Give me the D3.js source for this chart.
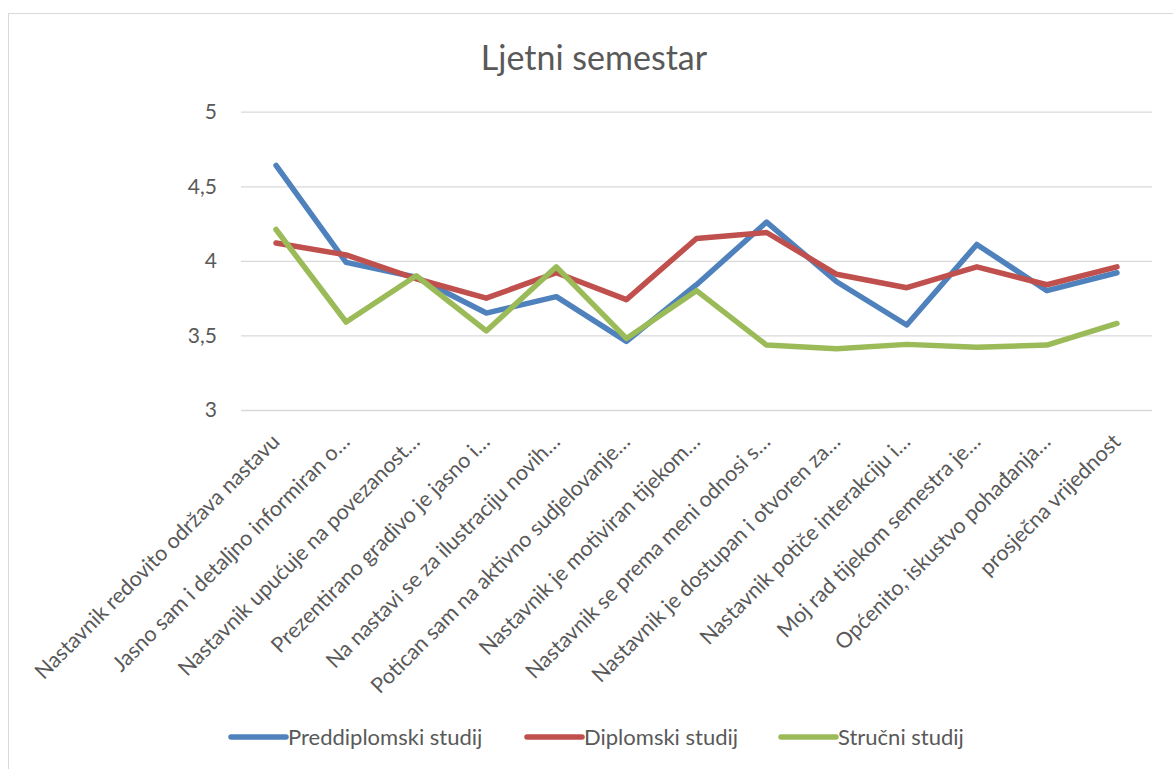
<!DOCTYPE html>
<html>
<head>
<meta charset="utf-8">
<script src="https://cdn.jsdelivr.net/npm/d3@7"></script>
<style>
  body { margin: 0; background: #fff; }
  text { font-family: Lato, "Open Sans", sans-serif; fill: #595959; }
</style>
</head>
<body>
<svg id="chart" width="1173" height="769"></svg>
<script>
var categories = [
  "Nastavnik redovito održava nastavu",
  "Jasno sam i detaljno informiran o…",
  "Nastavnik upućuje na povezanost…",
  "Prezentirano gradivo je jasno i…",
  "Na nastavi se za ilustraciju novih…",
  "Potican sam na aktivno sudjelovanje…",
  "Nastavnik je motiviran tijekom…",
  "Nastavnik se prema meni odnosi s…",
  "Nastavnik je dostupan i otvoren za…",
  "Nastavnik potiče interakciju i…",
  "Moj rad tijekom semestra je…",
  "Općenito, iskustvo pohađanja…",
  "prosječna vrijednost"
];
var preddiplomski = [4.64, 3.99, 3.89, 3.65, 3.76, 3.46, 3.84, 4.26, 3.86, 3.57, 4.11, 3.80, 3.92];
var diplomski     = [4.12, 4.04, 3.88, 3.75, 3.92, 3.74, 4.15, 4.19, 3.91, 3.82, 3.96, 3.84, 3.96];
var strucni       = [4.21, 3.59, 3.90, 3.53, 3.96, 3.48, 3.80, 3.435, 3.41, 3.44, 3.42, 3.435, 3.58];
var seriesNames = ["Preddiplomski studij", "Diplomski studij", "Stručni studij"];
var seriesColors = ["#4F81BD", "#C0504D", "#9BBB59"];
var yTicks = [3, 3.5, 4, 4.5, 5];

var svg = d3.select("#chart");

// outer chart border (right/bottom fall outside the picture)
svg.append("rect")
  .attr("x", 8.5).attr("y", 13.5)
  .attr("width", 1200).attr("height", 800)
  .attr("fill", "#fff")
  .attr("stroke", "#D9D9D9");

var x = d3.scalePoint().domain(categories).range([241, 1152]).padding(0.5);
var y = d3.scaleLinear().domain([3, 5]).range([410, 111.7]);

// title
svg.append("text")
  .attr("x", 594).attr("y", 70)
  .attr("text-anchor", "middle")
  .style("font-size", "34px")
  .text("Ljetni semestar");

// gridlines + y labels
var yAxis = d3.axisLeft(y).tickValues(yTicks)
  .tickSize(-(1152 - 241))
  .tickPadding(24)
  .tickFormat(function(d) { return String(d).replace(".", ","); });

var gy = svg.append("g").attr("transform", "translate(241,0)").call(yAxis);
gy.select(".domain").remove();
gy.selectAll(".tick line").attr("stroke", "#D9D9D9").attr("stroke-width", 1.3);
gy.selectAll(".tick text")
  .attr("fill", "#595959")
  .style("font-family", "Lato, sans-serif")
  .style("font-size", "21px");

// x labels, rotated
svg.append("g").selectAll("text")
  .data(categories)
  .enter()
  .append("text")
  .attr("text-anchor", "end")
  .attr("transform", function(d) { return "translate(" + (x(d) + 5) + ",443) rotate(-45)"; })
  .style("font-size", "21.5px")
  .text(function(d) { return d; });

// lines
var line = d3.line()
  .x(function(d, i) { return x(categories[i]); })
  .y(function(d) { return y(d); });

var allSeries = [preddiplomski, diplomski, strucni];
svg.append("g").selectAll("path")
  .data(allSeries)
  .enter()
  .append("path")
  .attr("d", line)
  .attr("fill", "none")
  .attr("stroke", function(d, i) { return seriesColors[i]; })
  .attr("stroke-width", 5.5)
  .attr("stroke-linecap", "round")
  .attr("stroke-linejoin", "round");

// legend
var legendX = [231, 527, 781];
var legend = svg.append("g").selectAll("g")
  .data(seriesNames)
  .enter()
  .append("g")
  .attr("transform", function(d, i) { return "translate(" + legendX[i] + ",737)"; });

legend.append("line")
  .attr("x1", 0).attr("x2", 55)
  .attr("stroke", function(d, i) { return seriesColors[i]; })
  .attr("stroke-width", 5.5)
  .attr("stroke-linecap", "round");

legend.append("text")
  .attr("x", 57).attr("y", 8)
  .style("font-size", "22px")
  .text(function(d) { return d; });
</script>
</body>
</html>
